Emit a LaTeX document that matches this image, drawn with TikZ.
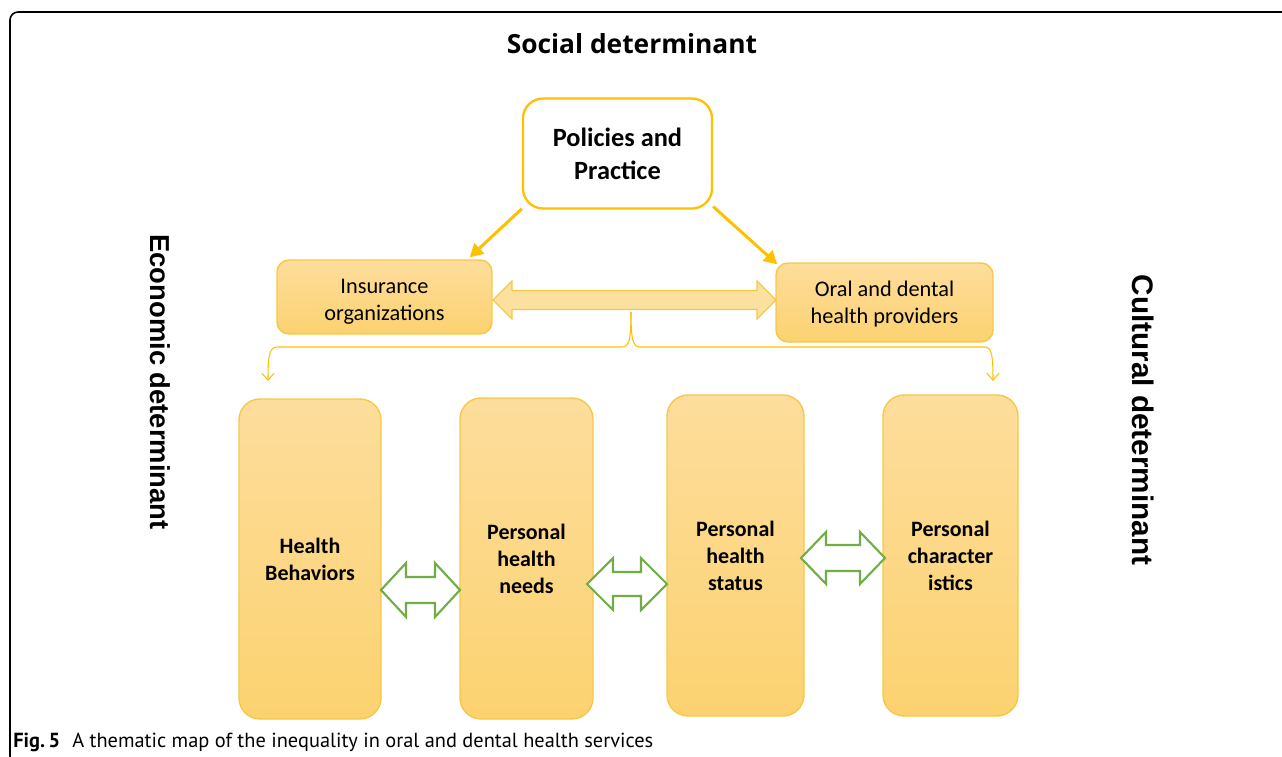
\documentclass[tikz,border=0pt]{standalone}
\usepackage{fontspec}
\setmainfont{Carlito}
\newfontfamily\titlefont{Open Sans}
\newfontfamily\arialfont{Liberation Sans}
\newfontfamily\capfont{PT Sans}
\usetikzlibrary{arrows.meta,calc}
\def\pxu{0.02cm}
\definecolor{gold}{RGB}{255,192,0}
\definecolor{boxtop}{RGB}{253,221,156}
\definecolor{boxbot}{RGB}{252,210,112}
\definecolor{boxline}{RGB}{247,200,70}
\definecolor{arrfill}{RGB}{252,224,160}
\definecolor{grn}{RGB}{112,173,71}
\newcommand\dblarr[7]{%
  \draw[#1] (#2,#4) -- (#2+#7,#4-#5) -- (#2+#7,#4-#6) -- (#3-#7,#4-#6)
    -- (#3-#7,#4-#5) -- (#3,#4) -- (#3-#7,#4+#5) -- (#3-#7,#4+#6)
    -- (#2+#7,#4+#6) -- (#2+#7,#4+#5) -- cycle;}
\newcommand\twolines[3]{\raisebox{-#1}[\height][\depth]{\begin{tabular}{@{}c@{}}#2\\#3\end{tabular}}}
\tikzset{
  titletext/.style={font=\titlefont\bfseries\fontsize{15}{18}\selectfont},
  sidetext/.style={font=\arialfont\bfseries\fontsize{15.6}{18}\selectfont, rotate=-90},
  policybox/.style={draw=gold, line width=1.3pt, fill=white, rounded corners=0.4cm,
    align=center, inner sep=0pt, font=\bfseries\fontsize{15}{18.8}\selectfont},
  midbox/.style={draw=boxline, line width=0.8pt, top color=boxtop, bottom color=boxbot,
    rounded corners=0.24cm, align=center, inner sep=0pt, font=\fontsize{12.7}{15.4}\selectfont},
  tallbox/.style={draw=boxline, line width=0.8pt, top color=boxtop, bottom color=boxbot,
    rounded corners=0.42cm, align=center, inner sep=0pt, font=\bfseries\fontsize{12.5}{15.4}\selectfont},
  oarrow/.style={draw=gold, line width=1.7pt, -{Triangle[length=7.5pt,width=8pt]}},
  bracket/.style={draw=gold, line width=0.6pt, -{Straight Barb[length=4pt,width=7pt]}},
  blockarr/.style={draw=boxline, line width=0.7pt, fill=arrfill},
  greenarr/.style={draw=grn, line width=1.2pt, fill=white},
}
\begin{document}
\begin{tikzpicture}[x=0.02cm,y=-0.02cm]
\useasboundingbox (0,0) rectangle (1282,757);
\begin{scope}
\clip (0,0) rectangle (1282,757);
\draw[line width=0.9pt, rounded corners=0.16cm] (10,12) rectangle (1300,764);
\end{scope}

\node[titletext] (soc) at (632,44) {Social determinant};
\node[sidetext] (eco) at (160,382) {Economic determinant};
\node[sidetext, font=\arialfont\bfseries\fontsize{16.9}{19}\selectfont] (cul) at (1143,420) {Cultural determinant};

\node[policybox, minimum width=189*\pxu, minimum height=110*\pxu] (pol) at (617.5,153.5) {Policies and\\Practice};
\node[midbox, minimum width=215*\pxu, minimum height=74*\pxu] (ins) at (384.5,297) {\twolines{0.1cm}{Insurance}{organizations}};
\node[midbox, minimum width=217*\pxu, minimum height=79*\pxu] (oral) at (884.5,302.5) {\twolines{0.04cm}{Oral and dental}{health providers}};

\node[tallbox, minimum width=142*\pxu, minimum height=320*\pxu] (b1) at (310,559) {Health\\Behaviors};
\node[tallbox, minimum width=133*\pxu, minimum height=321*\pxu] (b2) at (526.5,558.5) {Personal\\health\\needs};
\node[tallbox, minimum width=137*\pxu, minimum height=321*\pxu] (b3) at (735.5,555.5) {Personal\\health\\status};
\node[tallbox, minimum width=135*\pxu, minimum height=321*\pxu] (b4) at (950.5,555.5) {Personal\\character\\istics};

\draw[oarrow] (pol.210) -- ($(ins.north east)+(-23,-2)$);
\draw[oarrow] (pol.-29) -- ($(oral.north west)+(2,2)$);

\dblarr{blockarr}{493}{776}{300}{19}{9.5}{19}

\coordinate (peak) at (631,312);
\coordinate (lft) at (268,381);
\coordinate (rgt) at (993,381);
\draw[bracket] (peak) .. controls (631,340) and (629,347) .. (622,347) -- (278,347)
  .. controls (270,347) and (268,352) .. (lft);
\draw[bracket] (peak) .. controls (631,340) and (633,347) .. (640,347) -- (984,347)
  .. controls (991,347) and (993,352) .. (rgt);

\dblarr{greenarr}{381}{460}{590}{27}{13}{25}
\dblarr{greenarr}{587}{667}{584}{26}{12}{26}
\dblarr{greenarr}{801}{885}{558}{26}{13}{25}

\node[anchor=base west, inner sep=0pt, font=\capfont\fontsize{11.6}{13}\selectfont] (cap) at (13,747)
  {\textbf{Fig.\,5}\hspace{0.6em}A thematic map of the inequality in oral and dental health services};
\end{tikzpicture}
\end{document}
